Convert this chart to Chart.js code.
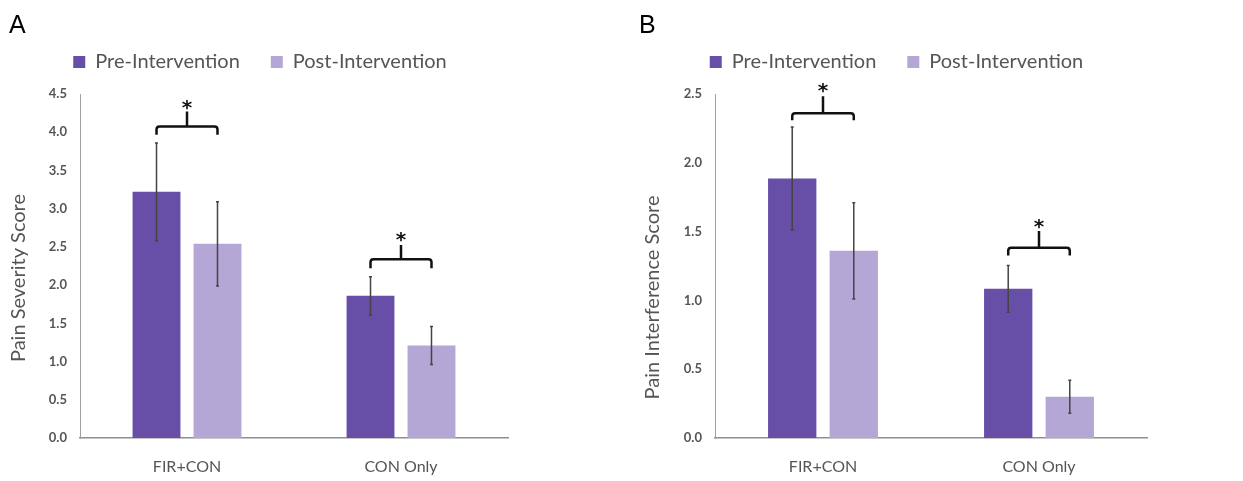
<!DOCTYPE html>
<html><head><meta charset="utf-8">
<script src="https://cdn.jsdelivr.net/npm/chart.js@4/dist/chart.umd.min.js"></script>
<style>
html,body{margin:0;padding:0;background:#fff;}
body{width:1243px;height:481px;position:relative;overflow:hidden;}
canvas{position:absolute;top:0;}
</style></head><body>
<canvas id="cA" width="520" height="481" style="left:0px"></canvas>
<canvas id="cB" width="532" height="481" style="left:630px"></canvas>
<script>
// ---- data ----
const categories = ['FIR+CON', 'CON Only'];
const seriesNames = ['Pre-Intervention', 'Post-Intervention'];

const severityPre = [3.22, 1.86];
const severityPost = [2.54, 1.21];
const severityPreErr = [0.64, 0.25];
const severityPostErr = [0.55, 0.25];
const severityTicks = [0, 0.5, 1, 1.5, 2, 2.5, 3, 3.5, 4, 4.5];
const severityTitle = 'Pain Severity Score';

const interferencePre = [1.886, 1.084];
const interferencePost = [1.36, 0.30];
const interferencePreErr = [0.375, 0.17];
const interferencePostErr = [0.35, 0.12];
const interferenceTicks = [0, 0.5, 1, 1.5, 2, 2.5];
const interferenceTitle = 'Pain Interference Score';

const sigMark = '*';
// significance brackets (data units): horizontal line, end of legs, top of stem, star centre
const severityBrackets = [
  {cat: 0, line: 4.075, leg: 3.966, stem: 4.27, star: 4.385},
  {cat: 1, line: 2.339, leg: 2.22, stem: 2.526, star: 2.657}
];
const interferenceBrackets = [
  {cat: 0, line: 2.36, leg: 2.31, stem: 2.483, star: 2.555},
  {cat: 1, line: 1.383, leg: 1.327, stem: 1.504, star: 1.567}
];

// ---- styles ----
const PRE = '#674ea7', POST = '#b4a7d6', TXT = '#555555';

const legendGap = {
  id: 'legendGap',
  beforeInit(chart) {
    const lg = chart.legend;
    if (!lg) return;
    const fit = lg.fit;
    lg.fit = function () { fit.call(this); this.height += 12; };
  }
};

const errorBars = {
  id: 'errorBars',
  afterDatasetsDraw(chart) {
    const ctx = chart.ctx, y = chart.scales.y;
    chart.data.datasets.forEach((ds, di) => {
      chart.getDatasetMeta(di).data.forEach((bar, i) => {
        const v = ds.data[i], e = ds.errors[i];
        const t = y.getPixelForValue(v + e), b = y.getPixelForValue(v - e);
        ctx.save();
        ctx.strokeStyle = '#444';
        ctx.lineWidth = 1.5;
        ctx.beginPath();
        ctx.moveTo(bar.x, t); ctx.lineTo(bar.x, b);
        ctx.moveTo(bar.x - 1.5, t); ctx.lineTo(bar.x + 1.5, t);
        ctx.moveTo(bar.x - 1.5, b); ctx.lineTo(bar.x + 1.5, b);
        ctx.stroke();
        ctx.restore();
      });
    });
  }
};

const brackets = {
  id: 'brackets',
  afterDraw(chart, args, opts) {
    const ctx = chart.ctx, y = chart.scales.y;
    (opts.items || []).forEach(br => {
      const x1 = chart.getDatasetMeta(0).data[br.cat].x;
      const x2 = chart.getDatasetMeta(1).data[br.cat].x;
      const xc = (x1 + x2) / 2;
      const yl = y.getPixelForValue(br.line), yg = y.getPixelForValue(br.leg);
      const ys = y.getPixelForValue(br.stem), yst = y.getPixelForValue(br.star);
      const r = 3;
      ctx.save();
      ctx.strokeStyle = '#111';
      ctx.lineWidth = 2.5;
      ctx.lineCap = 'butt';
      ctx.beginPath();
      ctx.moveTo(x1, yg);
      ctx.lineTo(x1, yl + r);
      ctx.quadraticCurveTo(x1, yl, x1 + r, yl);
      ctx.lineTo(x2 - r, yl);
      ctx.quadraticCurveTo(x2, yl, x2, yl + r);
      ctx.lineTo(x2, yg);
      ctx.moveTo(xc, yl);
      ctx.lineTo(xc, ys);
      ctx.stroke();
      ctx.fillStyle = '#111';
      ctx.font = 'bold 20px "DejaVu Sans"';
      ctx.textAlign = 'center';
      ctx.textBaseline = 'alphabetic';
      ctx.fillText(sigMark, xc, yst + 11);
      ctx.restore();
    });
  }
};

const extraText = {
  id: 'extraText',
  afterDraw(chart, args, opts) {
    const ctx = chart.ctx;
    ctx.save();
    ctx.fillStyle = '#000';
    ctx.font = '25px "Liberation Sans"';
    ctx.textAlign = 'left';
    ctx.textBaseline = 'alphabetic';
    ctx.fillText(opts.letter, 9, 33);
    ctx.translate(opts.titleX, opts.titleY);
    ctx.rotate(-Math.PI / 2);
    ctx.fillStyle = TXT;
    ctx.font = '20px Lato';
    ctx.textAlign = 'center';
    ctx.textBaseline = 'middle';
    ctx.fillText(opts.title, 0, 0);
    ctx.restore();
  }
};

function makeChart(id, pre, post, preErr, postErr, ticks, title, bks, letter, padL, padR, yW, titleX, titleY) {
  return new Chart(document.getElementById(id), {
    type: 'bar',
    data: {
      labels: categories,
      datasets: [
        {label: seriesNames[0], data: pre, errors: preErr, backgroundColor: PRE, borderWidth: 0},
        {label: seriesNames[1], data: post, errors: postErr, backgroundColor: POST, borderWidth: 0}
      ]
    },
    options: {
      responsive: false,
      animation: false,
      events: [],
      categoryPercentage: 0.57,
      barPercentage: 0.785,
      layout: {padding: {left: padL, right: padR, top: 21, bottom: 0}},
      plugins: {
        legend: {
          position: 'top',
          labels: {
            boxWidth: 12, boxHeight: 12, padding: 31, color: TXT,
            font: {family: 'Lato', size: 20}
          }
        },
        tooltip: {enabled: false},
        brackets: {items: bks},
        extraText: {letter: letter, title: title, titleX: titleX, titleY: titleY}
      },
      scales: {
        x: {
          grid: {display: false, drawTicks: false},
          border: {display: true, color: '#8f8f8f', width: 1.5},
          ticks: {color: TXT, font: {family: 'Lato', size: 16}, padding: 19},
          afterFit(s) { s.height = 43; }
        },
        y: {
          min: 0, max: ticks[ticks.length - 1],
          grid: {display: false, drawTicks: false},
          border: {display: true, color: '#a0a0a0', width: 1},
          afterBuildTicks(s) { s.ticks = ticks.map(v => ({value: v})); },
          ticks: {
            color: TXT, padding: 13,
            font: {family: 'Lato', size: 13, weight: 'bold'},
            callback: v => Number(v).toFixed(1)
          },
          afterFit(s) { s.width = yW; }
        }
      }
    },
    plugins: [legendGap, errorBars, brackets, extraText]
  });
}

makeChart('cA', severityPre, severityPost, severityPreErr, severityPostErr, severityTicks,
  severityTitle, severityBrackets, 'A', 12, 12, 68, 19, 278);
makeChart('cB', interferencePre, interferencePost, interferencePreErr, interferencePostErr, interferenceTicks,
  interferenceTitle, interferenceBrackets, 'B', 16, 15, 69, 23, 297.5);
</script>
</body></html>
